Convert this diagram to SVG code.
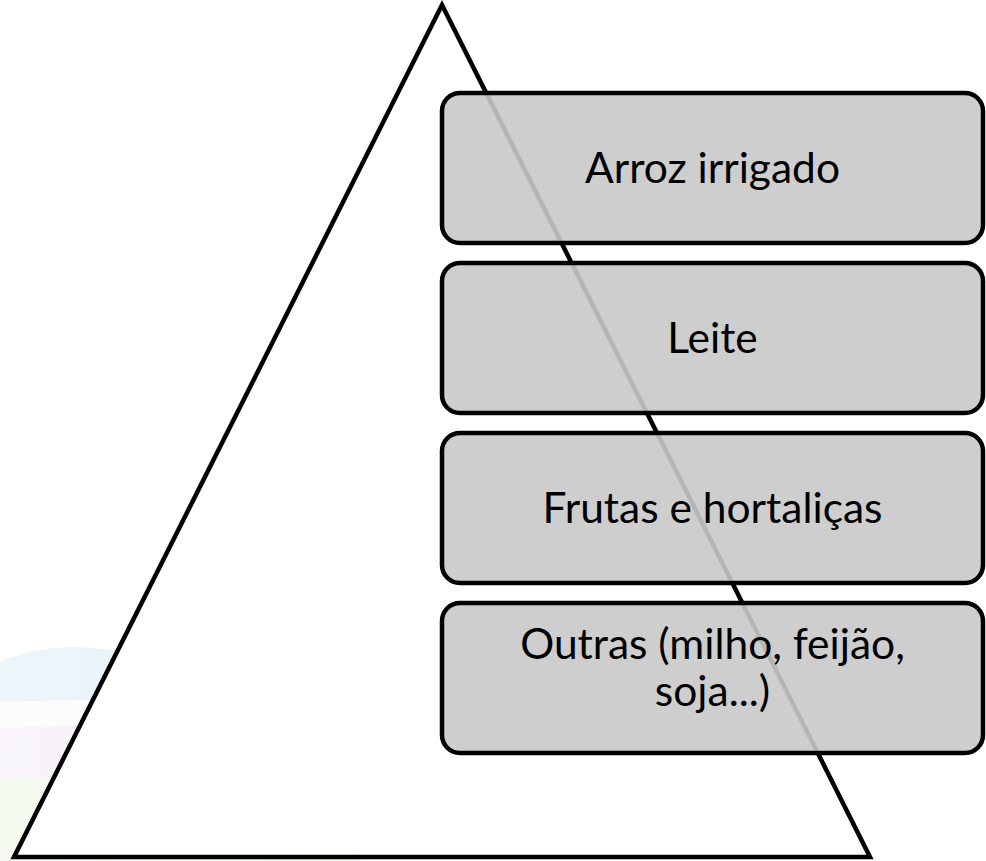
<svg xmlns="http://www.w3.org/2000/svg" width="986" height="861" viewBox="0 0 986 861">
  <style>
    .box { fill: #c9c9c9; fill-opacity: 0.9; stroke: #000; stroke-width: 4.5; }
    .lbl { font-family: Lato, "Liberation Sans", sans-serif; font-size: 42.5px; fill: #000; text-anchor: middle; }
    .tri { fill: #fff; stroke: #000; stroke-width: 4.5; stroke-linejoin: miter; }
  </style>
  <defs>
    <linearGradient id="fadeH" x1="0" y1="0" x2="1" y2="0">
      <stop offset="0" stop-color="#fff" stop-opacity="0.35"/>
      <stop offset="1" stop-color="#fff" stop-opacity="0"/>
    </linearGradient>
  </defs>
  <rect x="0" y="0" width="986" height="861" fill="#fff"/>
  <g id="background">
    <rect x="0" y="775" width="360" height="86" fill="#eef7e8"/>
    <rect x="0" y="722" width="360" height="56" fill="#f4eff7"/>
    <path d="M0,662 Q50,640 110,650 Q200,650 360,660 L360,700 Q200,696 0,702 Z" fill="#e3f1f8"/>
    <path d="M0,702 Q200,696 360,700 L360,726 Q200,720 0,728 Z" fill="#fbfbfc"/>
    <rect x="0" y="630" width="360" height="231" fill="url(#fadeH)"/>
  </g>
  <g id="pyramid">
    <polygon class="tri" points="442,5 870,857 14,857"/>
  </g>
  <g id="node1">
    <rect class="box" x="442" y="93" width="541" height="150" rx="18"/>
    <text class="lbl" x="712.5" y="183">Arroz irrigado</text>
  </g>
  <g id="node2">
    <rect class="box" x="442" y="263" width="541" height="150" rx="18"/>
    <text class="lbl" x="712.5" y="353">Leite</text>
  </g>
  <g id="node3">
    <rect class="box" x="442" y="433" width="541" height="150" rx="18"/>
    <text class="lbl" x="712.5" y="523">Frutas e hortaliças</text>
  </g>
  <g id="node4">
    <rect class="box" x="442" y="603" width="541" height="150" rx="18"/>
    <text class="lbl" x="712.5" y="659">Outras (milho, feijão,</text>
    <text class="lbl" x="712.5" y="706">soja...)</text>
  </g>
  <g id="connectors"/>
</svg>
